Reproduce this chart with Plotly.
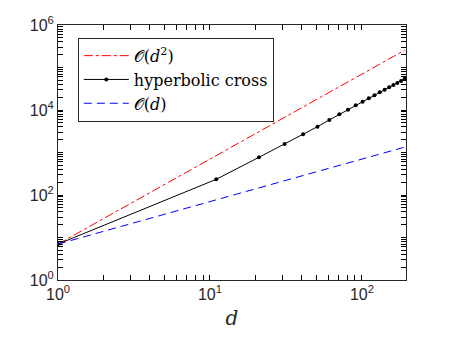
import numpy as np
import plotly.graph_objects as go

# dimensions d (every 10th, as in the reference)
d = [1, 11, 21, 31, 41, 51, 61, 71, 81, 91, 101, 111, 121, 131, 141, 151, 161, 171, 181, 191]

# hyperbolic cross sizes
hc = [7, 234, 770, 1585, 2680, 4050, 5820, 7900, 10180, 12900, 15700,
      18800, 22100, 26000, 30000, 34100, 38700, 43100, 48100, 54600]

# reference rates O(d) and O(d^2), scaled to start at the same value
c0 = 7
d_ref = [1, 191]
o_d2 = [c0 * 1 ** 2, c0 * 191 ** 2]
o_d = [c0 * 1, c0 * 191]

x_major = {1: '10<sup>0</sup>', 10: '10<sup>1</sup>', 100: '10<sup>2</sup>'}
y_major = {1: '10<sup>0</sup>', 100: '10<sup>2</sup>', 10000: '10<sup>4</sup>',
           1000000: '10<sup>6</sup>'}

# log-style tick positions (1..9 of each decade); only the majors get a label
x_ticks = [k * 10 ** e for e in range(0, 3) for k in range(1, 10)]
y_ticks = [k * 10 ** e for e in range(0, 6) for k in range(1, 10)] + [10 ** 6]
x_labels = [x_major.get(v, '') for v in x_ticks]
y_labels = [y_major.get(v, '') for v in y_ticks]

serif = 'DejaVu Serif'
axc = '#262626'

fig = go.Figure()
fig.add_trace(go.Scatter(x=d_ref, y=o_d2, mode='lines', name='𝒪(<i>d</i><sup>2</sup>)',
                         line=dict(color='red', width=1, dash='dashdot')))
fig.add_trace(go.Scatter(x=d, y=hc, mode='lines+markers', name='hyperbolic cross',
                         line=dict(color='black', width=1),
                         marker=dict(color='black', size=4)))
fig.add_trace(go.Scatter(x=d_ref, y=o_d, mode='lines', name='𝒪(<i>d</i>)',
                         line=dict(color='blue', width=1, dash='8px,5px')))

axis_common = dict(
    type='log', showgrid=False, zeroline=False, automargin=False,
    showline=True, linecolor=axc, linewidth=1, mirror='allticks',
    ticks='inside', ticklen=5, tickwidth=1, tickcolor='black', tickmode='array',
    tickfont=dict(family='Liberation Sans', size=16, color=axc),
)

# page has an 8px body margin, so the figure is 8px smaller than the window
fig.update_layout(
    width=441, height=334,
    margin=dict(l=50, r=43, t=17, b=62),
    paper_bgcolor='white', plot_bgcolor='white',
    xaxis=dict(**axis_common, range=[0, np.log10(195)],
               tickvals=x_ticks, ticktext=x_labels,
               title=dict(text='<i>d</i>', font=dict(family=serif, size=20, color=axc),
                          standoff=8)),
    yaxis=dict(**axis_common, range=[0, 6],
               tickvals=y_ticks, ticktext=y_labels),
    legend=dict(x=0.057, y=0.95, xanchor='left', yanchor='top',
                bgcolor='white', bordercolor=axc, borderwidth=1,
                font=dict(family=serif, size=16, color='black'),
                itemwidth=45, tracegroupgap=0),
)

fig.write_html('out.html')
